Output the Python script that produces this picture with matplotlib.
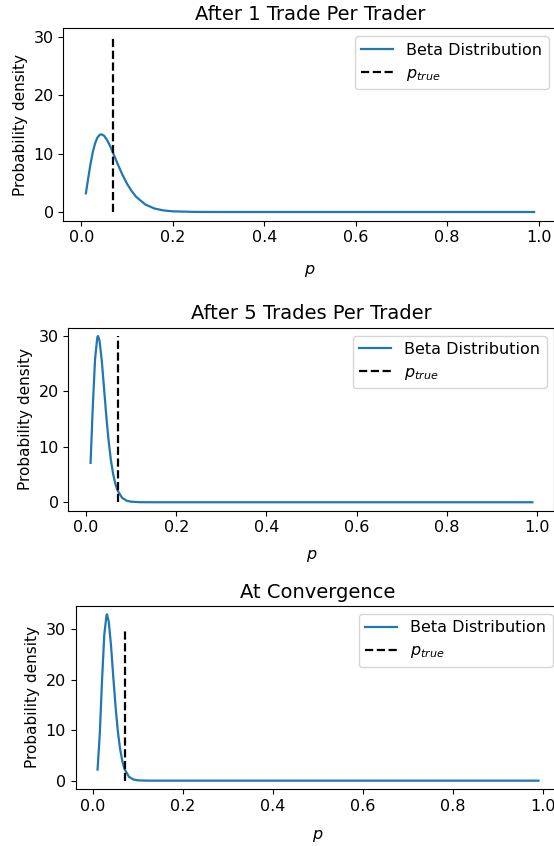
import matplotlib
matplotlib.use("Agg")
import matplotlib.pyplot as plt

# Posterior density
p_true = 0.07

titles = ["After 1 Trade Per Trader", "After 5 Trades Per Trader", "At Convergence"]

x_one = [0.01, 0.015, 0.02, 0.025, 0.03, 0.035, 0.04, 0.045, 0.05, 0.055, 0.06,
         0.065, 0.07, 0.08, 0.09, 0.10, 0.11, 0.12, 0.14, 0.16, 0.18, 0.20, 0.25,
         0.30, 0.99]
y_one = [3.2, 5.77, 8.2, 10.23, 11.75, 12.74, 13.23, 13.31, 13.05, 12.5, 11.8,
         10.95, 10.02, 8.14, 6.37, 4.84, 3.6, 2.59, 1.28, 0.59, 0.26, 0.11, 0.01,
         0.0, 0.0]

x_five = [0.01, 0.015, 0.02, 0.025, 0.0266, 0.03, 0.035, 0.04, 0.045, 0.05,
          0.055, 0.06, 0.065, 0.07, 0.08, 0.09, 0.10, 0.12, 0.15, 0.99]
y_five = [7.1, 17.36, 25.87, 29.77, 30.0, 29.1, 25.43, 20.45, 15.44, 11.1,
          7.66, 5.12, 3.32, 2.10, 0.80, 0.28, 0.096, 0.01, 0.0, 0.0]

x_conv = [0.01, 0.015, 0.02, 0.025, 0.03, 0.031, 0.035, 0.04, 0.045, 0.05,
          0.055, 0.06, 0.065, 0.07, 0.08, 0.09, 0.10, 0.12, 0.15, 0.99]
y_conv = [2.2, 9.37, 20.0, 28.99, 32.9, 33.0, 31.5, 26.7, 20.5, 14.7,
          9.88, 6.35, 3.89, 2.30, 0.74, 0.22, 0.06, 0.003, 0.0, 0.0]

series = [(x_one, y_one), (x_five, y_five), (x_conv, y_conv)]

# axes rectangles in figure fractions (left, bottom, width, height)
rects = [
    [0.1146, 0.7391, 0.8899, 0.2274],
    [0.1236, 0.3965, 0.8773, 0.2162],
    [0.1363, 0.0674, 0.8755, 0.2163],
]
xlabel_pads = [13, 9.5, 10]

fig = plt.figure(figsize=(5.54, 8.46), dpi=100)

for rect, pad, title, (xs, ys) in zip(rects, xlabel_pads, titles, series):
    ax = fig.add_axes(rect)
    ax.plot(xs, ys, color='#1f77b4', linewidth=1.6, label='Beta Distribution')
    ax.plot([p_true, p_true], [0, 30], 'k--', linewidth=1.6, label='$p_{true}$')
    ax.set_title(title, fontsize=14)
    ax.set_xlabel('$p$', fontsize=11.5, labelpad=pad)
    ax.set_ylabel('Probability density', fontsize=11)
    ax.set_xticks([0.0, 0.2, 0.4, 0.6, 0.8, 1.0])
    ax.set_yticks([0, 10, 20, 30])
    ax.tick_params(labelsize=11.5)
    ax.legend(loc='upper right', fontsize=11.5)

fig.savefig('out.png', dpi=100)
plt.close(fig)
